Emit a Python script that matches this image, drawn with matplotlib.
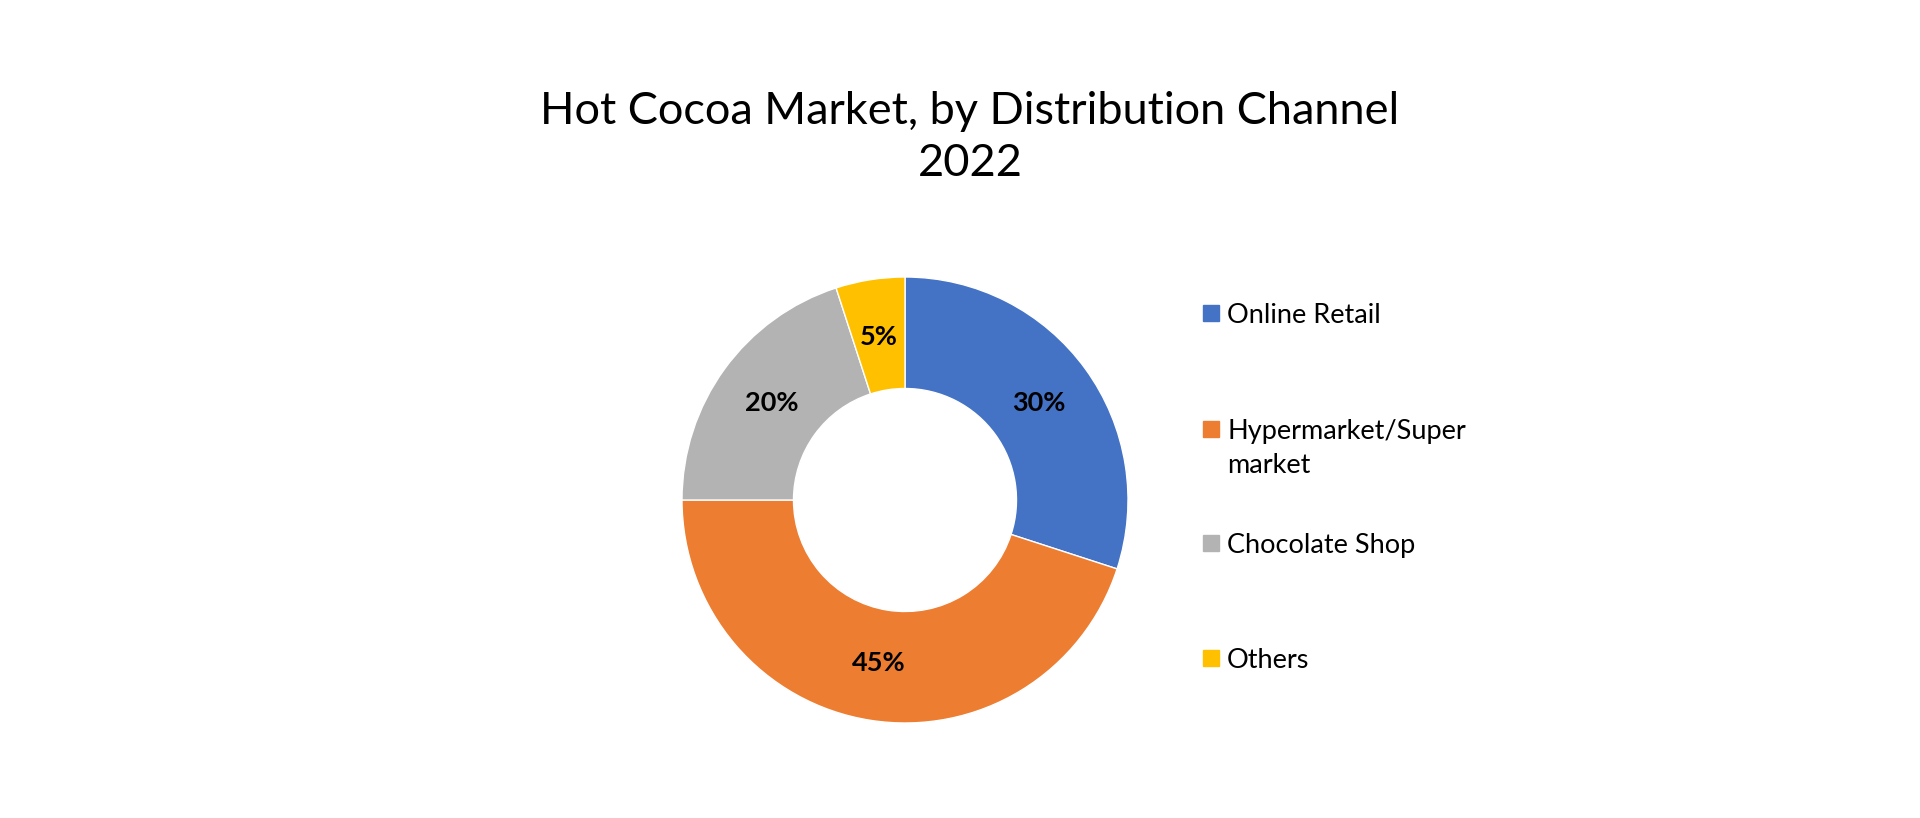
import matplotlib.pyplot as plt
from matplotlib.patches import Rectangle

# data
channels = ["Online Retail", "Hypermarket/Super\nmarket", "Chocolate Shop", "Others"]
shares = [30, 45, 20, 5]
colors = ["#4472C4", "#ED7D31", "#B3B3B3", "#FFC000"]

plt.rcParams["font.family"] = ["Lato", "DejaVu Sans"]

W, H = 1920, 818
fig = plt.figure(figsize=(W / 100, H / 100), dpi=100)

# donut: center ~(905, 500) px, radius ~223 px
cx, cy, r = 905, 500, 223
ax = fig.add_axes([(cx - r) / W, (H - cy - r) / H, 2 * r / W, 2 * r / H])
wedges, texts = ax.pie(
    shares, colors=colors, startangle=90, counterclock=False,
    labels=[f"{v}%" for v in shares], labeldistance=0.74,
    wedgeprops=dict(width=0.5, edgecolor="white", linewidth=1),
    textprops=dict(fontsize=19.5, fontweight="bold", color="black"),
)
for t in texts:
    t.set_ha("center")
    t.set_va("center")
ax.set_xlim(-1, 1)
ax.set_ylim(-1, 1)
ax.set_aspect("equal")
ax.axis("off")

fig.text(970 / W, 1 - 111 / H, "Hot Cocoa Market, by Distribution Channel",
         ha="center", va="center", fontsize=32.5)
fig.text(970 / W, 1 - 163 / H, "2022", ha="center", va="center", fontsize=32.5)

# legend drawn by hand so the square sits on the first line of each label
sq = 16
row_y = [313, 429, 543, 658]
for lab, col, y in zip(channels, colors, row_y):
    fig.patches.append(Rectangle((1203 / W, 1 - (y + sq / 2) / H), sq / W, sq / H,
                                 transform=fig.transFigure, color=col))
    fig.text(1227 / W, 1 - (y - 10) / H, lab, ha="left", va="top",
             fontsize=19.5, linespacing=1.45)

fig.savefig("out.png", dpi=100, facecolor="white")
